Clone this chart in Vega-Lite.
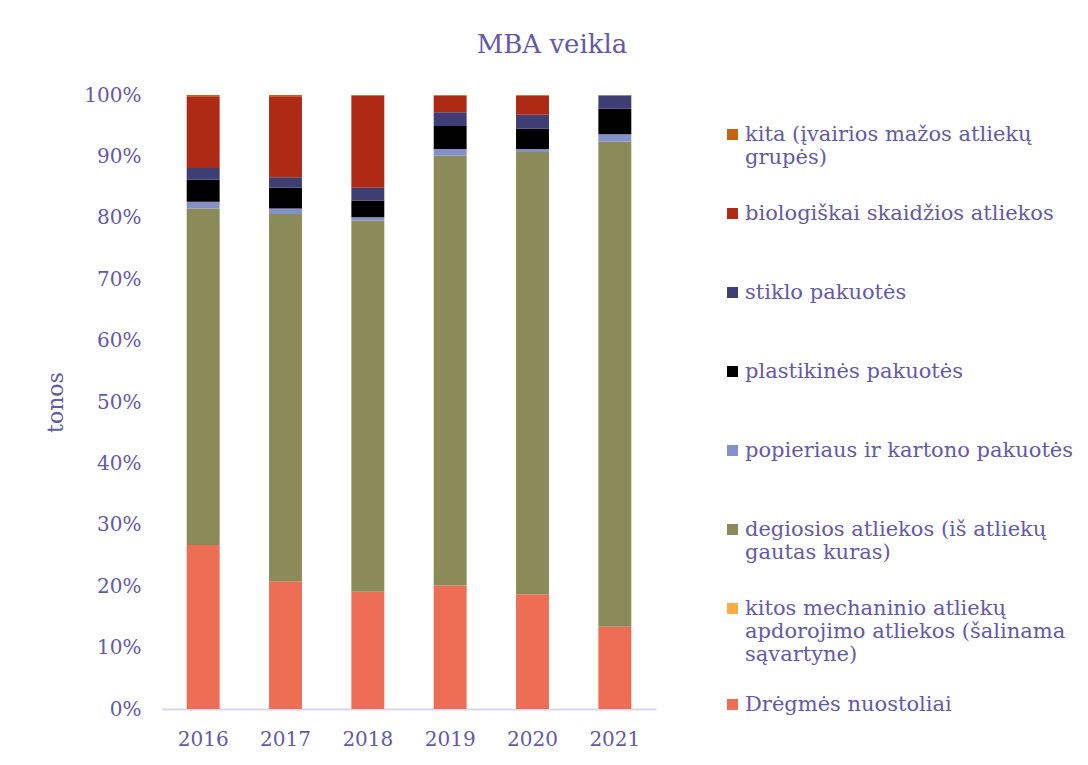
{
  "$schema": "https://vega.github.io/schema/vega-lite/v6.json",
  "width": 494,
  "height": 614,
  "autosize": "none",
  "padding": {"left": 162, "top": 95, "right": 432, "bottom": 56},
  "background": "white",
  "title": {
    "text": "MBA veikla",
    "font": "DejaVu Serif",
    "fontSize": 26,
    "fontWeight": "normal",
    "color": "#6459A8",
    "anchor": "middle",
    "dx": 143,
    "offset": 27
  },
  "data": {
    "values": [
      {"year": "2016", "cat": "Drėgmės nuostoliai", "value": 26.7},
      {"year": "2016", "cat": "kitos mechaninio atliekų apdorojimo atliekos (šalinama sąvartyne)", "value": 0},
      {"year": "2016", "cat": "degiosios atliekos (iš atliekų gautas kuras)", "value": 54.8},
      {"year": "2016", "cat": "popieriaus ir kartono pakuotės", "value": 1.1},
      {"year": "2016", "cat": "plastikinės pakuotės", "value": 3.6},
      {"year": "2016", "cat": "stiklo pakuotės", "value": 1.9},
      {"year": "2016", "cat": "biologiškai skaidžios atliekos", "value": 11.7},
      {"year": "2016", "cat": "kita (įvairios mažos atliekų grupės)", "value": 0.2},
      {"year": "2017", "cat": "Drėgmės nuostoliai", "value": 20.8},
      {"year": "2017", "cat": "kitos mechaninio atliekų apdorojimo atliekos (šalinama sąvartyne)", "value": 0},
      {"year": "2017", "cat": "degiosios atliekos (iš atliekų gautas kuras)", "value": 59.8},
      {"year": "2017", "cat": "popieriaus ir kartono pakuotės", "value": 0.9},
      {"year": "2017", "cat": "plastikinės pakuotės", "value": 3.4},
      {"year": "2017", "cat": "stiklo pakuotės", "value": 1.7},
      {"year": "2017", "cat": "biologiškai skaidžios atliekos", "value": 13.2},
      {"year": "2017", "cat": "kita (įvairios mažos atliekų grupės)", "value": 0.2},
      {"year": "2018", "cat": "Drėgmės nuostoliai", "value": 19.1},
      {"year": "2018", "cat": "kitos mechaninio atliekų apdorojimo atliekos (šalinama sąvartyne)", "value": 0},
      {"year": "2018", "cat": "degiosios atliekos (iš atliekų gautas kuras)", "value": 60.4},
      {"year": "2018", "cat": "popieriaus ir kartono pakuotės", "value": 0.6},
      {"year": "2018", "cat": "plastikinės pakuotės", "value": 2.7},
      {"year": "2018", "cat": "stiklo pakuotės", "value": 2.1},
      {"year": "2018", "cat": "biologiškai skaidžios atliekos", "value": 15.0},
      {"year": "2018", "cat": "kita (įvairios mažos atliekų grupės)", "value": 0.1},
      {"year": "2019", "cat": "Drėgmės nuostoliai", "value": 20.1},
      {"year": "2019", "cat": "kitos mechaninio atliekų apdorojimo atliekos (šalinama sąvartyne)", "value": 0},
      {"year": "2019", "cat": "degiosios atliekos (iš atliekų gautas kuras)", "value": 70.0},
      {"year": "2019", "cat": "popieriaus ir kartono pakuotės", "value": 1.1},
      {"year": "2019", "cat": "plastikinės pakuotės", "value": 3.75},
      {"year": "2019", "cat": "stiklo pakuotės", "value": 2.25},
      {"year": "2019", "cat": "biologiškai skaidžios atliekos", "value": 2.7},
      {"year": "2019", "cat": "kita (įvairios mažos atliekų grupės)", "value": 0.1},
      {"year": "2020", "cat": "Drėgmės nuostoliai", "value": 18.7},
      {"year": "2020", "cat": "kitos mechaninio atliekų apdorojimo atliekos (šalinama sąvartyne)", "value": 0},
      {"year": "2020", "cat": "degiosios atliekos (iš atliekų gautas kuras)", "value": 72.0},
      {"year": "2020", "cat": "popieriaus ir kartono pakuotės", "value": 0.5},
      {"year": "2020", "cat": "plastikinės pakuotės", "value": 3.3},
      {"year": "2020", "cat": "stiklo pakuotės", "value": 2.3},
      {"year": "2020", "cat": "biologiškai skaidžios atliekos", "value": 3.1},
      {"year": "2020", "cat": "kita (įvairios mažos atliekų grupės)", "value": 0.1},
      {"year": "2021", "cat": "Drėgmės nuostoliai", "value": 13.4},
      {"year": "2021", "cat": "kitos mechaninio atliekų apdorojimo atliekos (šalinama sąvartyne)", "value": 0},
      {"year": "2021", "cat": "degiosios atliekos (iš atliekų gautas kuras)", "value": 79.0},
      {"year": "2021", "cat": "popieriaus ir kartono pakuotės", "value": 1.2},
      {"year": "2021", "cat": "plastikinės pakuotės", "value": 4.2},
      {"year": "2021", "cat": "stiklo pakuotės", "value": 2.1},
      {"year": "2021", "cat": "biologiškai skaidžios atliekos", "value": 0},
      {"year": "2021", "cat": "kita (įvairios mažos atliekų grupės)", "value": 0.1}
    ]
  },
  "transform": [
    {"calculate": "indexof(['kita (įvairios mažos atliekų grupės)','biologiškai skaidžios atliekos','stiklo pakuotės','plastikinės pakuotės','popieriaus ir kartono pakuotės','degiosios atliekos (iš atliekų gautas kuras)','kitos mechaninio atliekų apdorojimo atliekos (šalinama sąvartyne)','Drėgmės nuostoliai'], datum.cat)", "as": "rank"}
  ],
  "mark": {"type": "bar"},
  "encoding": {
    "x": {
      "field": "year",
      "type": "ordinal",
      "scale": {"paddingInner": 0.6, "paddingOuter": 0.3},
      "axis": {
        "title": null,
        "labelAngle": 0,
        "labelFont": "DejaVu Serif",
        "labelFontSize": 20,
        "labelColor": "#6459A8",
        "labelPadding": 20,
        "ticks": false,
        "domainColor": "#D9D5EC",
        "domainWidth": 2
      }
    },
    "y": {
      "field": "value",
      "type": "quantitative",
      "stack": "normalize",
      "scale": {"domain": [0, 1], "nice": false},
      "axis": {
        "title": "tonos",
        "titleFont": "DejaVu Serif",
        "titleFontSize": 22,
        "titleFontWeight": "normal",
        "titleColor": "#6459A8",
        "titlePadding": 16,
        "format": ".0%",
        "values": [0, 0.1, 0.2, 0.3, 0.4, 0.5, 0.6, 0.7, 0.8, 0.9, 1],
        "labelFont": "DejaVu Serif",
        "labelFontSize": 20,
        "labelColor": "#6459A8",
        "labelPadding": 21,
        "ticks": false,
        "domain": false,
        "grid": false
      }
    },
    "color": {
      "field": "cat",
      "type": "nominal",
      "scale": {
        "domain": [
          "kita (įvairios mažos atliekų grupės)",
          "biologiškai skaidžios atliekos",
          "stiklo pakuotės",
          "plastikinės pakuotės",
          "popieriaus ir kartono pakuotės",
          "degiosios atliekos (iš atliekų gautas kuras)",
          "kitos mechaninio atliekų apdorojimo atliekos (šalinama sąvartyne)",
          "Drėgmės nuostoliai"
        ],
        "range": ["#C5650F", "#AE2A14", "#3F3E74", "#000000", "#8490C8", "#8A8B58", "#FFAA44", "#EE6E55"]
      },
      "legend": {
        "title": null,
        "orient": "right",
        "offset": 66,
        "padding": 0,
        "symbolType": "square",
        "symbolSize": 121,
        "symbolStrokeWidth": 0,
        "labelFont": "DejaVu Serif",
        "labelFontSize": 21,
        "labelColor": "#6459A8",
        "labelOffset": 2,
        "labelLimit": 400,
        "labelBaseline": "middle",
        "labelLineHeight": 23,
        "clipHeight": 79,
        "rowPadding": 0,
        "labelExpr": "datum.label == 'kita (įvairios mažos atliekų grupės)' ? ['kita (įvairios mažos atliekų', 'grupės)'] : datum.label == 'degiosios atliekos (iš atliekų gautas kuras)' ? ['degiosios atliekos (iš atliekų', 'gautas kuras)'] : datum.label == 'kitos mechaninio atliekų apdorojimo atliekos (šalinama sąvartyne)' ? ['kitos mechaninio atliekų', 'apdorojimo atliekos (šalinama', 'sąvartyne)'] : datum.label"
      }
    },
    "order": {"field": "rank", "sort": "descending"}
  },
  "config": {
    "view": {"stroke": null}
  }
}
